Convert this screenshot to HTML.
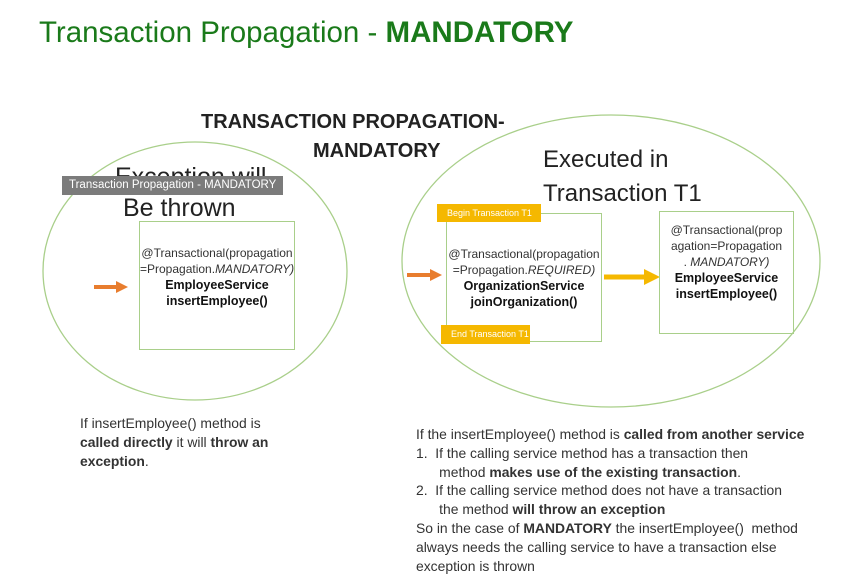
<!DOCTYPE html>
<html><head><meta charset="utf-8"><style>
body{margin:0;width:865px;height:580px;background:#fff;position:relative;overflow:hidden;font-family:"Liberation Sans",sans-serif;color:#222}
.a{position:absolute;white-space:nowrap}
.box{position:absolute;border:1.5px solid #a9cf8a;box-sizing:border-box}
.c{text-align:center;font-size:12px;line-height:16px;color:#333}
.c b{color:#111;font-size:12.5px}
.lab{position:absolute;background:#f5b800;color:#fff;font-size:9px;line-height:18px;padding-left:10px;box-sizing:border-box}
.t{font-size:13.9px;line-height:18.8px;color:#333}
</style></head><body>
<div class="a" style="left:39px;top:16px;font-size:29.5px;color:#1a7a1a">Transaction Propagation - <b>MANDATORY</b></div>
<svg class="a" style="left:0;top:0" width="865" height="580">
<ellipse cx="195" cy="271" rx="152" ry="129" fill="none" stroke="#a9cf8a" stroke-width="1.3"/>
<ellipse cx="611" cy="261" rx="209" ry="146" fill="none" stroke="#a9cf8a" stroke-width="1.3"/>
<line x1="94" y1="287" x2="118" y2="287" stroke="#e87d2e" stroke-width="4"/><polygon points="116,281 128,287 116,293" fill="#e87d2e"/>
<line x1="407" y1="275" x2="432" y2="275" stroke="#e87d2e" stroke-width="4"/><polygon points="430,269 442,275 430,281" fill="#e87d2e"/>
<line x1="604" y1="277" x2="646" y2="277" stroke="#f5b800" stroke-width="5"/><polygon points="644,269 660,277 644,285" fill="#f5b800"/>
</svg>
<div class="a" style="left:201px;top:111px;font-size:20px;font-weight:bold;color:#222">TRANSACTION PROPAGATION-</div>
<div class="a" style="left:313px;top:140px;font-size:20px;font-weight:bold;color:#222">MANDATORY</div>
<div class="a" style="left:115px;top:163px;font-size:25px;color:#222">Exception will</div>
<div class="a" style="left:123px;top:194px;font-size:25px;color:#222">Be thrown</div>
<div class="a" style="left:543px;top:146px;font-size:24px;color:#222">Executed in</div>
<div class="a" style="left:543px;top:180px;font-size:24px;color:#222">Transaction T1</div>
<div class="a" style="left:62px;top:176px;width:221px;height:19px;background:#7b7b7b;color:#fff;font-size:11.5px;line-height:19px;padding-left:7px;box-sizing:border-box">Transaction Propagation - MANDATORY</div>
<div class="box c" style="left:139px;top:221px;width:156px;height:129px;padding-top:23px">@Transactional(propagation<br>=Propagation.<i>MANDATORY)</i><br><b>EmployeeService<br>insertEmployee()</b></div>
<div class="box c" style="left:446px;top:213px;width:156px;height:129px;padding-top:32px">@Transactional(propagation<br>=Propagation.<i>REQUIRED)</i><br><b>OrganizationService<br>joinOrganization()</b></div>
<div class="lab" style="left:437px;top:204px;width:104px">Begin Transaction  T1</div>
<div class="lab" style="left:441px;top:325px;width:89px;height:19px">End Transaction T1</div>
<div class="box c" style="left:659px;top:211px;width:135px;height:123px;padding-top:10px">@Transactional(prop<br>agation=Propagation<br>. <i>MANDATORY)</i><br><b>EmployeeService<br>insertEmployee()</b></div>
<div class="a t" style="left:80px;top:414px">If insertEmployee() method is<br><b>called directly</b> it will <b>throw an</b><br><b>exception</b>.</div>
<div class="a t" style="left:416px;top:425px">If the insertEmployee() method is <b>called from another service</b><br>1.&nbsp;&nbsp;If the calling service method has a transaction then<br>&nbsp;&nbsp;&nbsp;&nbsp;&nbsp;&nbsp;method <b>makes use of the existing transaction</b>.<br>2.&nbsp;&nbsp;If the calling service method does not have a transaction<br>&nbsp;&nbsp;&nbsp;&nbsp;&nbsp;&nbsp;the method <b>will throw an exception</b><br>So in the case of <b>MANDATORY</b> the insertEmployee()&nbsp; method<br>always needs the calling service to have a transaction else<br>exception is thrown</div>
</body></html>
